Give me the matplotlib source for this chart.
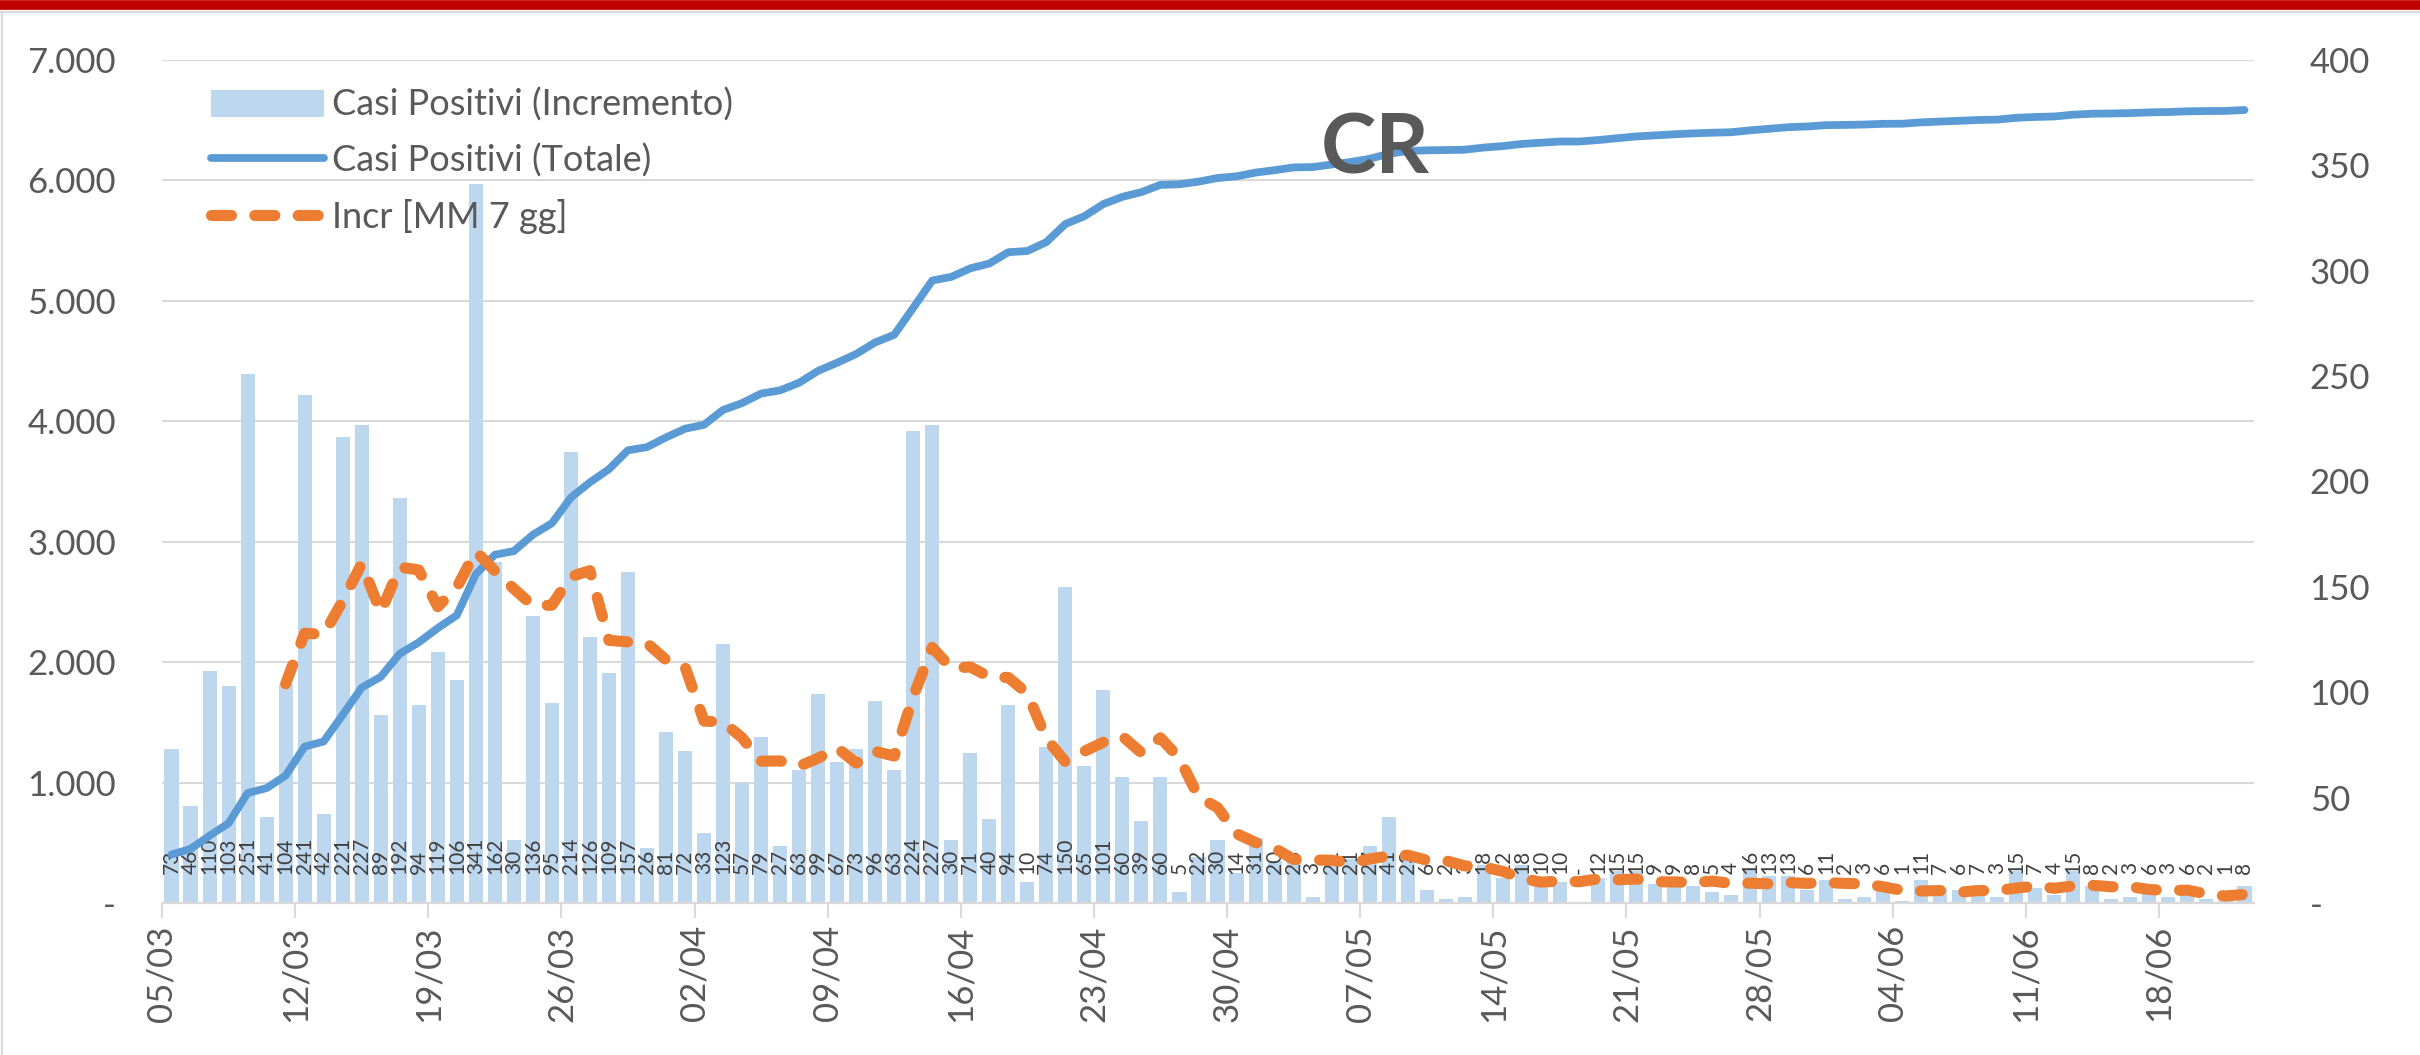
import matplotlib
matplotlib.use("Agg")
import matplotlib.pyplot as plt
import matplotlib.transforms as mtransforms
from matplotlib.lines import Line2D
from matplotlib.ticker import FuncFormatter
import numpy as np

plt.rcParams['font.family'] = ['Lato', 'DejaVu Sans']

# incremento giornaliero casi positivi (dal 05/03 al 22/06)
incremento = [73, 46, 110, 103, 251, 41, 104, 241, 42, 221, 227, 89, 192, 94,
              119, 106, 341, 162, 30, 136, 95, 214, 126, 109, 157, 26, 81, 72,
              33, 123, 57, 79, 27, 63, 99, 67, 73, 96, 63, 224, 227, 30,
              71, 40, 94, 10, 74, 150, 65, 101, 60, 39, 60, 5, 22, 30,
              14, 31, 20, 23, 3, 21, 21, 27, 41, 23, 6, 2, 3, 18,
              12, 18, 10, 10, 0, 12, 15, 15, 9, 9, 8, 5, 4, 16,
              13, 13, 6, 11, 2, 3, 6, 1, 11, 7, 6, 7, 3, 15,
              7, 4, 15, 8, 2, 3, 6, 3, 6, 2, 1, 8]

# casi positivi totali
totale = [403, 449, 559, 662, 913, 954, 1058, 1299, 1341, 1562, 1789, 1878, 2070, 2164,
          2283, 2389, 2730, 2892, 2922, 3058, 3153, 3367, 3493, 3602, 3759, 3785, 3866, 3938,
          3971, 4094, 4151, 4230, 4257, 4320, 4419, 4486, 4559, 4655, 4718, 4942, 5169, 5199,
          5270, 5310, 5404, 5414, 5488, 5638, 5703, 5804, 5864, 5903, 5963, 5968, 5990, 6020,
          6034, 6065, 6085, 6108, 6111, 6132, 6153, 6180, 6221, 6244, 6250, 6252, 6255, 6273,
          6285, 6303, 6313, 6323, 6323, 6335, 6350, 6365, 6374, 6383, 6391, 6396, 6400, 6416,
          6429, 6442, 6448, 6459, 6461, 6464, 6470, 6471, 6482, 6489, 6495, 6502, 6505, 6520,
          6527, 6531, 6546, 6554, 6556, 6559, 6565, 6568, 6574, 6576, 6577, 6585]

# media mobile 7 giorni, a partire dall'11/03
mm7_inizio = 6
mm7 = [104.0, 128.0, 127.4, 143.3, 161.0, 137.9, 159.4, 158.0,
       140.6, 149.7, 166.9, 157.6, 149.1, 141.1, 141.3, 154.9,
       157.7, 124.6, 123.9, 123.3, 115.4, 112.1, 86.3, 85.9,
       78.4, 67.3, 67.4, 64.9, 68.7, 73.6, 66.4, 72.0,
       69.7, 97.9, 121.3, 111.4, 112.0, 107.3, 107.0, 99.4,
       78.0, 67.0, 72.0, 76.3, 79.1, 71.3, 78.4, 68.6,
       50.3, 45.3, 32.9, 28.7, 26.0, 20.7, 20.4, 20.3,
       19.0, 20.9, 22.3, 22.7, 20.3, 20.1, 17.6, 17.1,
       15.0, 11.7, 9.9, 10.4, 10.1, 11.4, 11.0, 11.4,
       10.1, 10.0, 9.7, 10.4, 9.3, 9.4, 9.1, 9.7,
       9.3, 9.7, 9.3, 9.1, 7.7, 6.0, 5.7, 5.9,
       5.1, 5.9, 5.9, 7.1, 8.0, 7.0, 8.1, 8.4,
       7.7, 7.7, 6.4, 5.9, 6.1, 4.3, 3.3, 4.1]

date_settimanali = ['05/03', '12/03', '19/03', '26/03', '02/04', '09/04', '16/04', '23/04',
                    '30/04', '07/05', '14/05', '21/05', '28/05', '04/06', '11/06', '18/06']

C_BAR = '#BDD7EE'
C_TOT = '#5B9BD5'
C_MM = '#ED7D31'
C_GRID = '#D9D9D9'
C_TXT = '#595959'

W, H = 2420, 1055
fig = plt.figure(figsize=(W / 100, H / 100), dpi=100)
fig.patch.set_facecolor('white')

x0, x1 = 162, 2254
y0, y1 = 903, 60
ax = fig.add_axes([x0 / W, 1 - y0 / H, (x1 - x0) / W, (y0 - y1) / H])
ax_tot = ax.twinx()
ax_mm = ax.twinx()

giorni = np.arange(len(incremento))

# barre incremento (asse destro)
barre = ax.bar(giorni, incremento, width=0.74, color=C_BAR, zorder=2,
               label='Casi Positivi (Incremento)')
for g, v in zip(giorni, incremento):
    ax.annotate('-' if v == 0 else str(v), (g, 0), xytext=(0, 21),
                textcoords='offset points', rotation=90, ha='center', va='bottom',
                fontsize=15, color='#404040', zorder=3)

# totale (asse sinistro)
linea_tot, = ax_tot.plot(giorni, totale, color=C_TOT, lw=5.6,
                         solid_capstyle='round', solid_joinstyle='round',
                         label='Casi Positivi (Totale)')

# media mobile (asse destro)
linea_mm, = ax_mm.plot(giorni[mm7_inizio:], mm7, color=C_MM, lw=8,
                       dashes=(1.8, 2.1), dash_capstyle='round',
                       label='Incr [MM 7 gg]')

ax.set_xlim(-0.5, len(incremento) - 0.5)
ax.set_ylim(0, 400)
ax_mm.set_ylim(0, 400)
ax_tot.set_ylim(0, 7000)

# griglia sui valori dell'asse sinistro, sotto le barre
tr = mtransforms.blended_transform_factory(ax.transAxes, ax_tot.transData)
for yv in range(1000, 7001, 1000):
    ax.plot([0, 1], [yv, yv], transform=tr, color=C_GRID, lw=1.5, zorder=0)
ax.plot([0, 1], [0, 0], transform=tr, color=C_GRID, lw=1.6, zorder=4, clip_on=False)

for a in (ax, ax_tot, ax_mm):
    for s in a.spines.values():
        s.set_visible(False)

ax.set_xticks(np.arange(0, len(incremento), 7) - 0.5)
ax.set_xticklabels(date_settimanali, rotation=90, fontsize=25, color=C_TXT)
ax.tick_params(axis='x', length=11, width=1.5, color=C_GRID, pad=5)

ax.yaxis.tick_right()
ax.set_yticks(range(0, 401, 50))
ax.yaxis.set_major_formatter(FuncFormatter(lambda v, p: '-' if v == 0 else f'{v:.0f}'))
ax.tick_params(axis='y', length=0, pad=40, labelsize=25, labelcolor=C_TXT)
for t in ax.get_yticklabels():
    t.set_horizontalalignment('left')

ax_tot.yaxis.tick_left()
ax_tot.set_yticks(range(0, 7001, 1000))
ax_tot.yaxis.set_major_formatter(
    FuncFormatter(lambda v, p: '-' if v == 0 else f'{v:,.0f}'.replace(',', '.')))
ax_tot.tick_params(axis='y', length=0, pad=33, labelsize=25, labelcolor=C_TXT)

ax_mm.set_yticks([])

ax_mm.text(0.580, 0.893, 'CR', transform=ax.transAxes, fontsize=60,
           fontweight='bold', color=C_TXT, ha='center', va='center',
           family=['Liberation Sans Narrow', 'Lato', 'DejaVu Sans'], zorder=10)

leg = ax_mm.legend(handles=[barre, linea_tot, linea_mm], loc='upper left',
                   bbox_to_anchor=(0.0234, 0.967), frameon=False, fontsize=26,
                   borderpad=0, borderaxespad=0, handlelength=3.13, handleheight=0.8,
                   handletextpad=0.22, labelspacing=0.6)
for t in leg.get_texts():
    t.set_color(C_TXT)

# cornice e fascia rossa in alto
fig.add_artist(Line2D([0, 1], [1 - 12 / H, 1 - 12 / H], color=C_GRID, lw=1.5))
fig.add_artist(Line2D([2 / W, 2 / W], [0, 1 - 12 / H], color=C_GRID, lw=1.5))
fig.add_artist(Line2D([0, 1], [1 - 4.5 / H, 1 - 4.5 / H], color='#C00000', lw=7))

fig.savefig('out.png', dpi=100)
